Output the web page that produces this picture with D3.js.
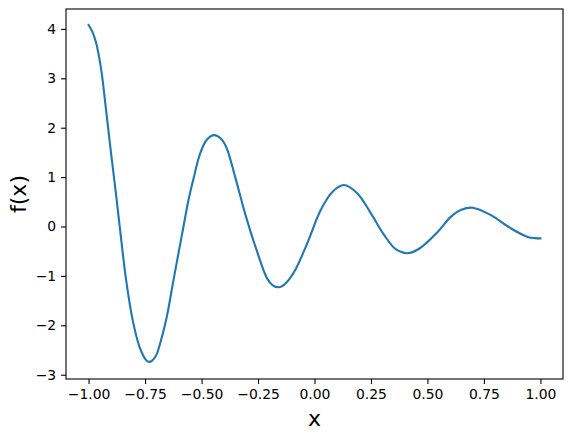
<!DOCTYPE html>
<html>
<head>
<meta charset="utf-8">
<script src="https://cdn.jsdelivr.net/npm/d3@7"></script>
<style>
  html, body { margin: 0; padding: 0; background: #fff; }
  svg text { font-family: "DejaVu Sans", sans-serif; fill: #000; }
</style>
</head>
<body>
<svg id="chart" width="571" height="438"></svg>
<script>
// Data
const xValues = [-1.000, -0.985, -0.968, -0.945, -0.923, -0.901, -0.879, -0.857, -0.834, -0.805,
                 -0.775, -0.746, -0.733, -0.720, -0.700, -0.684, -0.654, -0.624, -0.602, -0.580,
                 -0.558, -0.536, -0.506, -0.476, -0.444, -0.415, -0.390, -0.351, -0.306, -0.254,
                 -0.210, -0.185, -0.158, -0.135, -0.114, -0.084, -0.032, 0.027, 0.079, 0.130,
                 0.190, 0.249, 0.308, 0.360, 0.411, 0.463, 0.545, 0.604, 0.650, 0.700,
                 0.781, 0.870, 0.944, 0.975, 1.000];
const yValues = [4.08, 3.96, 3.74, 3.20, 2.37, 1.50, 0.67, -0.21, -1.08, -1.89,
                 -2.43, -2.70, -2.74, -2.72, -2.60, -2.38, -1.83, -1.08, -0.54, 0.00,
                 0.53, 0.96, 1.48, 1.76, 1.85, 1.78, 1.60, 1.00, 0.24, -0.51,
                 -1.05, -1.19, -1.23, -1.18, -1.08, -0.87, -0.34, 0.33, 0.70, 0.84,
                 0.67, 0.27, -0.17, -0.46, -0.54, -0.45, -0.11, 0.20, 0.34, 0.38,
                 0.23, -0.04, -0.21, -0.235, -0.24];
const xTicks = [-1.00, -0.75, -0.50, -0.25, 0.00, 0.25, 0.50, 0.75, 1.00];
const yTicks = [-3, -2, -1, 0, 1, 2, 3, 4];
const xLabel = "x";
const yLabel = "f(x)";

const svg = d3.select("#chart");
const plotLeft = 66, plotRight = 563, plotTop = 9, plotBottom = 379;

const x = d3.scaleLinear().domain([-1.1, 1.1]).range([plotLeft, plotRight]);
const y = d3.scaleLinear().domain([-3.087, 4.403]).range([plotBottom, plotTop]);

const fmtX = v => d3.format(".2f")(v).replace("-", "\u2212");
const fmtY = v => String(v).replace("-", "\u2212");

const points = xValues.map((v, i) => [v, yValues[i]]);

// line
svg.append("path")
  .datum(points)
  .attr("fill", "none")
  .attr("stroke", "#1f77b4")
  .attr("stroke-width", 2.1)
  .attr("stroke-linejoin", "round")
  .attr("stroke-linecap", "square")
  .attr("d", d3.line().x(d => x(d[0])).y(d => y(d[1])).curve(d3.curveCatmullRom.alpha(0.5)));

// frame
svg.append("rect")
  .attr("x", plotLeft).attr("y", plotTop)
  .attr("width", plotRight - plotLeft).attr("height", plotBottom - plotTop)
  .attr("fill", "none").attr("stroke", "#000").attr("stroke-width", 1.1);

// axes
const xAxis = d3.axisBottom(x).tickValues(xTicks).tickFormat(fmtX).tickSize(4.9).tickPadding(4.9);
const gx = svg.append("g").attr("transform", `translate(0,${plotBottom})`).call(xAxis);
gx.select(".domain").remove();
gx.selectAll("line").attr("stroke", "#000").attr("stroke-width", 1.1);
gx.selectAll("text").style("font-size", "13.9px").style("font-family", "DejaVu Sans, sans-serif").attr("fill", "#000");

const yAxis = d3.axisLeft(y).tickValues(yTicks).tickFormat(fmtY).tickSize(4.9).tickPadding(4.9);
const gy = svg.append("g").attr("transform", `translate(${plotLeft},0)`).call(yAxis);
gy.select(".domain").remove();
gy.selectAll("line").attr("stroke", "#000").attr("stroke-width", 1.1);
gy.selectAll("text").style("font-size", "13.9px").style("font-family", "DejaVu Sans, sans-serif").attr("fill", "#000");

// axis labels
svg.append("text")
  .attr("x", (plotLeft + plotRight) / 2).attr("y", 426)
  .attr("text-anchor", "middle")
  .style("font-size", "22px")
  .text(xLabel);

svg.append("text")
  .attr("transform", `translate(26,${(plotTop + plotBottom) / 2}) rotate(-90)`)
  .attr("text-anchor", "middle")
  .style("font-size", "22px")
  .text(yLabel);
</script>
</body>
</html>
